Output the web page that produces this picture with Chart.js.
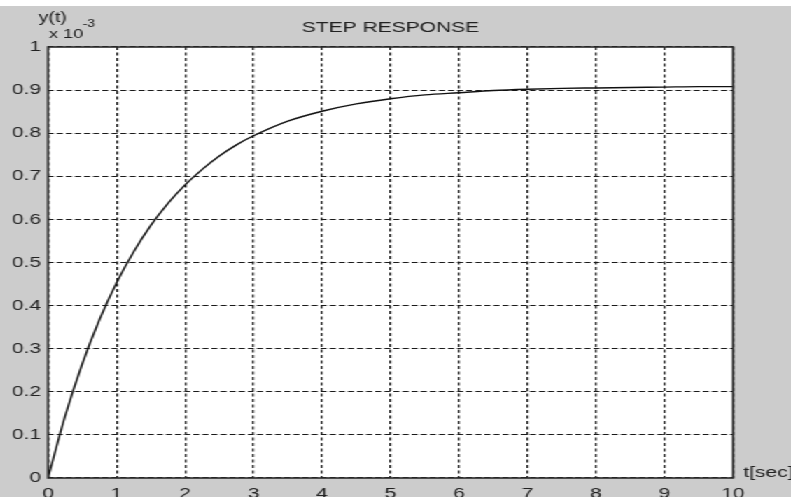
<!DOCTYPE html>
<html>
<head>
<meta charset="utf-8">
<script src="https://cdn.jsdelivr.net/npm/chart.js@4.4.1/dist/chart.umd.min.js"></script>
<style>
  html, body { margin: 0; padding: 0; background: #ffffff; overflow: hidden; }
  /* the old figure was stretched sideways, so draw narrow and widen it */
  #wrap { margin-top: 6px; width: 565px; height: 500px; background: #cccccc;
          transform: scaleX(1.4); transform-origin: 0 0; }
</style>
</head>
<body>
<div id="wrap"><canvas id="canvas-step"></canvas></div>
<script>
// time axis (sec) and response values (units of 1e-3)
const tempo = [0, 0.25, 0.5, 0.75, 1, 1.25, 1.5, 1.75, 2, 2.25, 2.5, 2.75, 3, 3.5, 4, 4.5, 5, 5.5, 6, 6.5, 7, 7.5, 8, 8.5, 9, 9.5, 10];
const resposta = [0, 0.144, 0.265, 0.367, 0.453, 0.525, 0.586, 0.637, 0.680, 0.716, 0.747, 0.773, 0.794, 0.828, 0.851, 0.868, 0.880, 0.889, 0.894, 0.899, 0.902, 0.904, 0.905, 0.906, 0.907, 0.908, 0.908];
const ticksX = [0, 1, 2, 3, 4, 5, 6, 7, 8, 9, 10];
const ticksY = [0, 0.1, 0.2, 0.3, 0.4, 0.5, 0.6, 0.7, 0.8, 0.9, 1];

const fonte = "Arial, 'Liberation Sans', sans-serif";

const moldura = {
  id: "moldura",
  beforeDraw(chart) {
    const a = chart.chartArea;
    const ctx = chart.ctx;
    ctx.save();
    ctx.fillStyle = "#ffffff";
    ctx.fillRect(a.left, a.top, a.right - a.left, a.bottom - a.top);
    ctx.restore();
  },
  afterDraw(chart) {
    const a = chart.chartArea;
    const ctx = chart.ctx;
    ctx.save();
    ctx.strokeStyle = "#2a2a2a";
    ctx.lineWidth = 1.6;
    ctx.strokeRect(a.left, a.top, a.right - a.left, a.bottom - a.top);
    ctx.fillStyle = "#222222";
    ctx.textBaseline = "alphabetic";
    ctx.textAlign = "left";
    ctx.font = "14px " + fonte;
    ctx.fillText("y(t)", 27.5, 16);
    ctx.font = "13px " + fonte;
    ctx.fillText("x 10", 35, 32);
    ctx.font = "10px " + fonte;
    ctx.fillText("-3", 59, 21);
    ctx.font = "15px " + fonte;
    ctx.fillText("t[sec]", 531, 471);
    ctx.restore();
  },
};

new Chart(document.getElementById("canvas-step"), {
  type: "line",
  plugins: [moldura],
  data: {
    datasets: [
      {
        data: tempo.map((t, i) => ({ x: t, y: resposta[i] })),
        borderColor: "#111111",
        borderWidth: 1.4,
        pointRadius: 0,
        fill: false,
        cubicInterpolationMode: "monotone",
      },
    ],
  },
  options: {
    responsive: true,
    maintainAspectRatio: false,
    animation: false,
    layout: { padding: { left: 0, right: 41.4, top: 0, bottom: 0 } },
    plugins: {
      legend: { display: false },
      tooltip: { enabled: false },
      title: {
        display: true,
        text: "STEP RESPONSE",
        color: "#222222",
        fullSize: false,
        font: { family: fonte, size: 15, weight: "normal" },
        padding: { top: 13, bottom: 10 },
      },
    },
    scales: {
      x: {
        type: "linear",
        min: 0,
        max: 10,
        afterFit: (s) => { s.height = 28; },
        afterBuildTicks: (s) => { s.ticks = ticksX.map((v) => ({ value: v })); },
        ticks: {
          padding: 7,
          color: "#222222",
          font: { family: fonte, size: 15 },
          maxRotation: 0,
        },
        grid: { color: "#1a1a1a", lineWidth: 1.3, drawTicks: false },
        border: { display: false, dash: [3, 2.5] },
      },
      y: {
        type: "linear",
        min: 0,
        max: 1,
        afterFit: (s) => { s.width = 34.3; },
        afterBuildTicks: (s) => { s.ticks = ticksY.map((v) => ({ value: v })); },
        ticks: {
          padding: 5,
          color: "#222222",
          font: { family: fonte, size: 15 },
          callback: (v) => (v === 0 || v === 1 ? String(v) : v.toFixed(1)),
        },
        grid: { color: "#1a1a1a", lineWidth: 1.1, drawTicks: false },
        border: { display: false, dash: [4.3, 2.2] },
      },
    },
  },
});
</script>
</body>
</html>
